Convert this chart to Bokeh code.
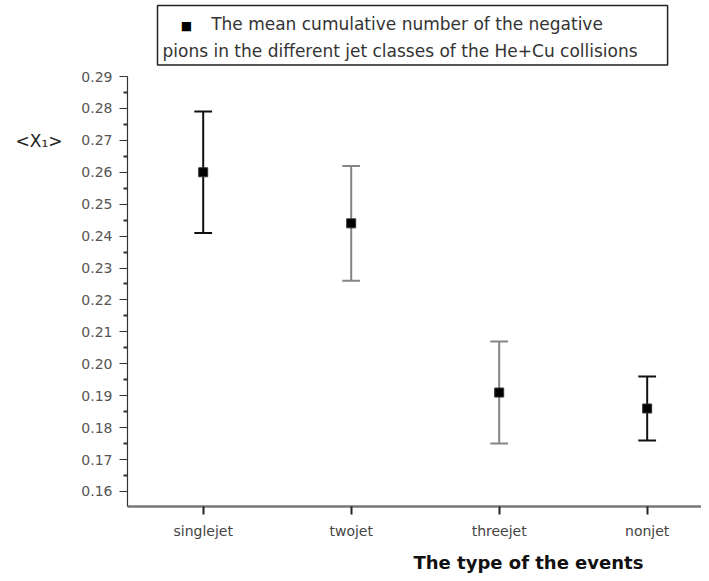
from bokeh.plotting import figure
from bokeh.models import (Range1d, FixedTicker, PrintfTickFormatter, Label,
                          ColumnDataSource)
from bokeh.embed import file_html
from bokeh.resources import INLINE

# ---- data ----
categories = ["singlejet", "twojet", "threejet", "nonjet"]
xpos = [1, 2, 3, 4]
means = [0.260, 0.244, 0.191, 0.186]
upper = [0.279, 0.262, 0.207, 0.196]
lower = [0.241, 0.226, 0.175, 0.176]
bar_colors = ["#111111", "#858585", "#858585", "#111111"]
y_ticks = [0.16, 0.17, 0.18, 0.19, 0.20, 0.21, 0.22, 0.23, 0.24, 0.25, 0.26, 0.27, 0.28, 0.29]
y_minor = [0.155, 0.165, 0.175, 0.185, 0.195, 0.205, 0.215, 0.225, 0.235, 0.245,
           0.255, 0.265, 0.275, 0.285]
legend_line1 = "The mean cumulative number of the negative"
legend_line2 = "pions in the different jet classes of the He+Cu collisions"
x_title = "The type of the events"
y_title = "<X\u2081>"

FONT = "DejaVu Sans"
cap_half = 0.06
indent = "\u00a0" * 9

src = ColumnDataSource(dict(
    x=xpos, m=means, up=upper, lo=lower, c=bar_colors,
    cx0=[v - cap_half for v in xpos], cx1=[v + cap_half for v in xpos],
))

p = figure(width=701, height=573, output_backend="svg", toolbar_location=None,
           x_range=Range1d(0.4885, 4.367), y_range=Range1d(0.1553, 0.29),
           min_border_left=127, min_border_right=0, min_border_top=76,
           min_border_bottom=67, background_fill_color="white",
           border_fill_color="white")
p.outline_line_color = None
p.grid.visible = False

# error bars
p.segment(x0="x", y0="lo", x1="x", y1="up", line_color="c", line_width=2, source=src)
p.segment(x0="cx0", y0="up", x1="cx1", y1="up", line_color="c", line_width=2, source=src)
p.segment(x0="cx0", y0="lo", x1="cx1", y1="lo", line_color="c", line_width=2, source=src)
p.scatter(x="x", y="m", marker="square", size=9, fill_color="black",
          line_color="#333333", source=src)

# axes
ya = p.yaxis[0]
ya.ticker = FixedTicker(ticks=y_ticks, minor_ticks=y_minor)
ya.formatter = PrintfTickFormatter(format="%.2f")
ya.axis_line_color = "#333333"
ya.axis_line_width = 1.2
ya.major_tick_line_color = "#333333"
ya.major_tick_out = 8
ya.major_tick_in = 0
ya.minor_tick_line_color = "#333333"
ya.minor_tick_line_width = 2
ya.minor_tick_out = 4
ya.minor_tick_in = 0
ya.major_label_text_font = FONT
ya.major_label_text_font_size = "14px"
ya.major_label_text_color = "#555555"
ya.major_label_standoff = 7

xa = p.xaxis[0]
xa.ticker = FixedTicker(ticks=xpos, minor_ticks=[])
xa.major_label_overrides = {v: c for v, c in zip(xpos, categories)}
xa.axis_line_color = "#777777"
xa.axis_line_width = 2.5
xa.major_tick_line_color = "#222222"
xa.major_tick_line_width = 2
xa.major_tick_out = 8
xa.major_tick_in = 0
xa.minor_tick_line_color = None
xa.major_label_text_font = FONT
xa.major_label_text_font_size = "14px"
xa.major_label_text_color = "#444444"
xa.major_label_standoff = 8

# legend: one framed two-line text (padding: left, right, top, bottom)
p.add_layout(Label(x=157, y=5, x_units="canvas", y_units="canvas",
                   text=indent + legend_line1 + "\n" + legend_line2,
                   text_font=FONT, text_font_size="17px", text_color="#333333",
                   text_align="left", text_baseline="top", text_line_height=1.38,
                   border_line_color="#222222", border_line_width=1.5,
                   background_fill_color=None,
                   padding=(5, 30, 8, 4)), "above")
# legend marker (kept in the left panel so that the top panel stays short)
p.add_layout(Label(x=186, y=25, x_units="canvas", y_units="canvas", text="\u25a0",
                   text_font=FONT, text_font_size="12px", text_color="black",
                   text_align="center", text_baseline="middle"), "left")

# axis titles
p.add_layout(Label(x=15, y=140, x_units="canvas", y_units="canvas", text=y_title,
                   text_font=FONT, text_font_size="17px", text_color="#222222",
                   text_baseline="middle"), "left")
p.add_layout(Label(x=413, y=562, x_units="canvas", y_units="canvas", text=x_title,
                   text_font=FONT, text_font_size="18px", text_font_style="bold",
                   text_color="#111111", text_baseline="middle"), "below")

open("out.html", "w").write(file_html(p, INLINE))
